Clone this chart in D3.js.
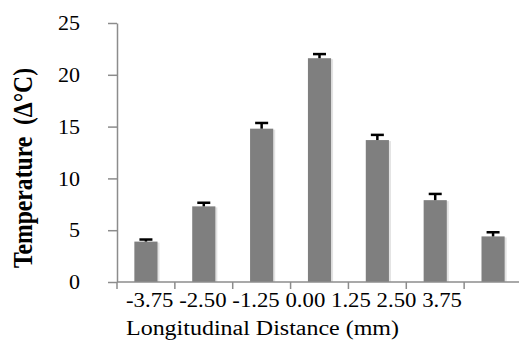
<!DOCTYPE html>
<html>
<head>
<meta charset="utf-8">
<script src="https://cdn.jsdelivr.net/npm/d3@7"></script>
<style>
  body { margin: 0; background: #fff; }
  svg text { font-family: "Liberation Serif", "DejaVu Serif", serif; fill: #000; white-space: pre; }
</style>
</head>
<body>
<div id="chart"></div>
<script>
// data
const distances = ["-3.75", "-2.50", "-1.25", "0.00", "1.25", "2.50", "3.75"];
const temps = [3.9, 7.3, 14.8, 21.6, 13.7, 7.9, 4.4];
const errs = [0.2, 0.35, 0.55, 0.4, 0.5, 0.6, 0.4];
const yTicks = [0, 5, 10, 15, 20, 25];

const W = 519, H = 344;
const MARGIN = { LEFT: 117, TOP: 23, RIGHT: -3, BOTTOM: 62 };
const FONT = "Liberation Serif, DejaVu Serif, serif";

const svg = d3.select("#chart")
    .append("svg")
    .attr("width", W)
    .attr("height", H);

const x = d3.scaleBand()
    .domain(distances)
    .range([MARGIN.LEFT, W - MARGIN.RIGHT])
    .paddingInner(0.6)
    .paddingOuter(0.3);

const y = d3.scaleLinear()
    .domain([0, 25])
    .range([H - MARGIN.BOTTOM, MARGIN.TOP]);

const data = distances.map((d, i) => ({ d: d, v: temps[i], e: errs[i] }));

// bars, with a faint shadow on the right like the original
svg.selectAll(".shadow")
    .data(data)
    .enter().append("rect")
    .attr("class", "shadow")
    .attr("x", d => x(d.d) + 2)
    .attr("y", d => y(d.v) + 1)
    .attr("width", x.bandwidth())
    .attr("height", d => y(0) - y(d.v) - 1)
    .attr("fill", "#e3e3e3");

svg.selectAll(".bar")
    .data(data)
    .enter().append("rect")
    .attr("class", "bar")
    .attr("x", d => x(d.d))
    .attr("y", d => y(d.v))
    .attr("width", x.bandwidth())
    .attr("height", d => y(0) - y(d.v))
    .attr("fill", "#7f7f7f");

// error bars (upper only)
const eb = svg.selectAll(".err")
    .data(data)
    .enter().append("g")
    .attr("class", "err");

eb.append("line")
    .attr("x1", d => x(d.d) + x.bandwidth() / 2)
    .attr("x2", d => x(d.d) + x.bandwidth() / 2)
    .attr("y1", d => y(d.v))
    .attr("y2", d => y(d.v + d.e))
    .attr("stroke", "#000")
    .attr("stroke-width", 2.5);

eb.append("line")
    .attr("x1", d => x(d.d) + x.bandwidth() / 2 - 6.5)
    .attr("x2", d => x(d.d) + x.bandwidth() / 2 + 6.5)
    .attr("y1", d => y(d.v + d.e))
    .attr("y2", d => y(d.v + d.e))
    .attr("stroke", "#000")
    .attr("stroke-width", 2.5);

// y axis
const yAxis = d3.axisLeft(y)
    .tickValues(yTicks)
    .tickSize(9)
    .tickSizeOuter(0)
    .tickPadding(28);

const gy = svg.append("g")
    .attr("transform", `translate(${MARGIN.LEFT}, 0)`)
    .call(yAxis);
gy.selectAll("line, path").attr("stroke", "#8c8c8c").attr("stroke-width", 1.5);
gy.selectAll("text")
    .attr("font-family", FONT)
    .style("font-size", "21px")
    .attr("textLength", d => String(d).length * 11)
    .attr("lengthAdjust", "spacingAndGlyphs");

// x axis: ticks on band edges, no tick labels on it
const edges = distances.map(d => x(d) - x.step() * x.paddingInner() / 2);
const gx = svg.append("g").attr("class", "xaxis");
gx.append("line")
    .attr("x1", MARGIN.LEFT)
    .attr("x2", W)
    .attr("y1", y(0))
    .attr("y2", y(0))
    .attr("stroke", "#8c8c8c")
    .attr("stroke-width", 1.5);
gx.selectAll(".tick")
    .data(edges)
    .enter().append("line")
    .attr("x1", d => d)
    .attr("x2", d => d)
    .attr("y1", y(0))
    .attr("y2", y(0) + 7)
    .attr("stroke", "#8c8c8c")
    .attr("stroke-width", 1.5);

// category labels sit as one run of text, as in the original
svg.append("text")
    .attr("x", 126)
    .attr("y", 307)
    .attr("font-family", FONT)
    .style("font-size", "20px")
    .attr("textLength", 336)
    .attr("lengthAdjust", "spacingAndGlyphs")
    .text(distances.join(" "));

svg.append("text")
    .attr("x", 126)
    .attr("y", 335)
    .attr("font-family", FONT)
    .style("font-size", "20px")
    .attr("textLength", 273)
    .attr("lengthAdjust", "spacingAndGlyphs")
    .text("Longitudinal Distance (mm)");

svg.append("text")
    .attr("transform", "translate(32, 168) scale(1.17, 1) rotate(-90)")
    .attr("text-anchor", "middle")
    .attr("font-family", FONT)
    .style("font-size", "23px")
    .style("font-weight", "bold")
    .attr("textLength", 200)
    .attr("lengthAdjust", "spacingAndGlyphs")
    .text("Temperature  (\u0394\u00B0C)");
</script>
</body>
</html>
